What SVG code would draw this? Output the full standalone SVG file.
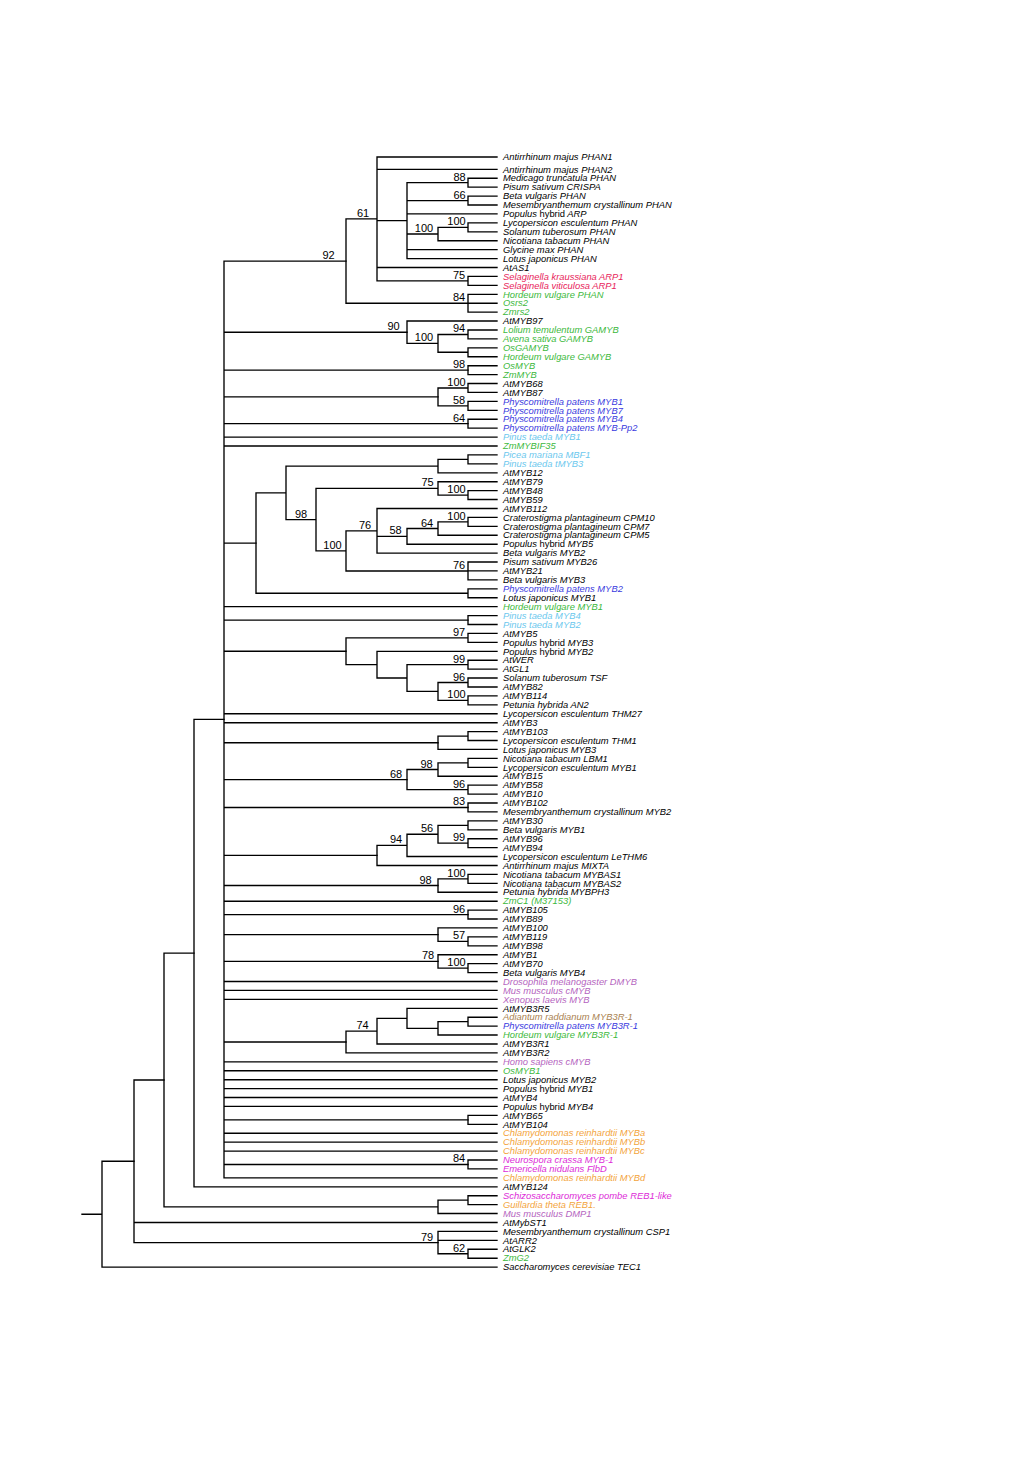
<svg xmlns="http://www.w3.org/2000/svg" width="1024" height="1479" viewBox="0 0 1024 1479">
<style>
.e{fill:none;stroke:#000;stroke-width:1.35;stroke-linecap:square}
text{font-family:"Liberation Sans",Arial,sans-serif}
.l{font-size:9.4px;font-style:italic;fill:#000}
.u{font-style:normal}
.bs{font-size:11px;text-anchor:middle;fill:#000}
.r{fill:#e8245a}.g{fill:#3cb93c}.b{fill:#3a3ae0}.c{fill:#6cc8ee}.p{fill:#b565c0}.o{fill:#f3a43c}.m{fill:#dd2bd8}.n{fill:#a97f4f}
</style>
<rect width="1024" height="1479" fill="#fff"/>
<g id="connectors" class="e">
<path d="M82,1214.2H102 M102,1161.25V1267.1 M102,1161.25H134 M102,1267.1H497"/>
<path d="M134,1079.95V1242.55 M134,1079.95H164 M134,1222.5H497 M134,1242.55H438"/>
<path d="M438,1231.4V1253.7 M438,1231.4H497 M438,1240.3H497 M438,1253.7H468 M468,1249.2V1258.2 M468,1249.2H497 M468,1258.2H497"/>
<path d="M164,953.1V1206.8 M164,953.1H194 M164,1206.8H438 M438,1200.15V1213.5 M438,1200.15H468 M438,1213.5H497 M468,1195.7V1204.6 M468,1195.7H497 M468,1204.6H497"/>
<path d="M194,719.4V1186.8 M194,719.4H224 M194,1186.8H497"/>
<path d="M224,261.05V1177.8 M224,261.05H346 M224,332.2H407 M224,370.15H468 M224,396.9H438 M224,423.65H468 M224,437.1H497 M224,446H497 M224,543.1H256 M224,606.6H497 M224,620.05H468 M224,651.25H346 M224,713.7H497 M224,722.7H497 M224,742.7H438 M224,779.55H407 M224,807.45H468 M224,855.4H377 M224,885.5H438 M224,901.2H497 M224,914.55H468 M224,934.6H438 M224,961.4H438 M224,981.5H497 M224,990.4H497 M224,999.3H497 M224,1042H346 M224,1061.8H497 M224,1070.7H497 M224,1079.7H497 M224,1088.6H497 M224,1097.5H497 M224,1106.4H497 M224,1119.85H468 M224,1133.2H497 M224,1142.1H497 M224,1151.1H497 M224,1164.45H468 M224,1177.8H497"/>
<path d="M346,218.9V303.2 M346,218.9H377 M346,303.2H468 M377,157V280.85 M377,157H497 M377,169.3H497 M377,220.6H407 M377,267.5H497 M377,280.85H468 M407,182.65V258.6 M407,182.65H468 M407,200.55H468 M407,213.9H497 M407,234H438 M407,249.6H497 M407,258.6H497 M468,178.2V187.1 M468,178.2H497 M468,187.1H497 M468,196.1V205 M468,196.1H497 M468,205H497 M438,227.35V240.7 M438,227.35H468 M438,240.7H497 M468,222.9V231.8 M468,222.9H497 M468,231.8H497 M468,276.4V285.3 M468,276.4H497 M468,285.3H497 M468,294.3V312.1 M468,294.3H497 M468,303.2H497 M468,312.1H497"/>
<path d="M407,321V343.35 M407,321H497 M407,343.35H438 M438,334.45V352.25 M438,334.45H468 M438,352.25H468 M468,330V338.9 M468,330H497 M468,338.9H497 M468,347.8V356.7 M468,347.8H497 M468,356.7H497 M468,365.7V374.6 M468,365.7H497 M468,374.6H497 M438,387.95V405.85 M438,387.95H468 M438,405.85H468 M468,383.5V392.4 M468,383.5H497 M468,392.4H497 M468,401.4V410.3 M468,401.4H497 M468,410.3H497 M468,419.2V428.1 M468,419.2H497 M468,428.1H497"/>
<path d="M256,492.9V593.25 M256,492.9H286 M256,593.25H468 M286,466.1V519.65 M286,466.1H438 M286,519.65H316 M438,459.35V472.8 M438,459.35H468 M438,472.8H497 M468,454.9V463.8 M468,454.9H497 M468,463.8H497 M316,488.4V550.9 M316,488.4H438 M316,550.9H346 M438,481.7V495.05 M438,481.7H497 M438,495.05H468 M468,490.6V499.5 M468,490.6H497 M468,499.5H497 M346,530.8V570.95 M346,530.8H377 M346,570.95H468 M377,508.5V553.1 M377,508.5H497 M377,536.35H407 M377,553.1H497 M407,528.5V544.2 M407,528.5H438 M407,544.2H497 M438,521.85V535.2 M438,521.85H468 M438,535.2H497 M468,517.4V526.3 M468,517.4H497 M468,526.3H497 M468,562V579.9 M468,562H497 M468,570.9H497 M468,579.9H497 M468,588.8V597.7 M468,588.8H497 M468,597.7H497"/>
<path d="M468,615.6V624.5 M468,615.6H497 M468,624.5H497 M346,637.85V664.65 M346,637.85H468 M346,664.65H377 M468,633.4V642.3 M468,633.4H497 M468,642.3H497 M377,651.3V678 M377,651.3H497 M377,678H407 M407,664.65V691.4 M407,664.65H468 M407,691.4H438 M468,660.2V669.1 M468,660.2H497 M468,669.1H497 M438,682.5V700.35 M438,682.5H468 M438,700.35H468 M468,678V687 M468,678H497 M468,687H497 M468,695.9V704.8 M468,695.9H497 M468,704.8H497"/>
<path d="M438,736.05V749.4 M438,736.05H468 M438,749.4H497 M468,731.6V740.5 M468,731.6H497 M468,740.5H497 M407,769.5V789.6 M407,769.5H438 M407,789.6H468 M438,762.85V776.2 M438,762.85H468 M438,776.2H497 M468,758.4V767.3 M468,758.4H497 M468,767.3H497 M468,785.1V794.1 M468,785.1H497 M468,794.1H497 M468,803V811.9 M468,803H497 M468,811.9H497"/>
<path d="M377,845.35V865.5 M377,845.35H407 M377,865.5H497 M407,834.2V856.5 M407,834.2H438 M407,856.5H497 M438,825.3V843.15 M438,825.3H468 M438,843.15H468 M468,820.8V829.8 M468,820.8H497 M468,829.8H497 M468,838.7V847.6 M468,838.7H497 M468,847.6H497 M438,878.85V892.2 M438,878.85H468 M438,892.2H497 M468,874.4V883.3 M468,874.4H497 M468,883.3H497"/>
<path d="M468,910.1V919 M468,910.1H497 M468,919H497 M438,927.9V941.35 M438,927.9H497 M438,941.35H468 M468,936.9V945.8 M468,936.9H497 M468,945.8H497 M438,954.7V968.1 M438,954.7H497 M438,968.1H468 M468,963.6V972.6 M468,963.6H497 M468,972.6H497"/>
<path d="M346,1031.15V1052.9 M346,1031.15H377 M346,1052.9H497 M377,1018.3V1044 M377,1018.3H407 M377,1044H497 M407,1008.3V1028.3 M407,1008.3H497 M407,1028.3H438 M438,1021.65V1035 M438,1021.65H468 M438,1035H497 M468,1017.2V1026.1 M468,1017.2H497 M468,1026.1H497"/>
<path d="M468,1115.4V1124.3 M468,1115.4H497 M468,1124.3H497 M468,1160V1168.9 M468,1160H497 M468,1168.9H497"/>
</g>
<g id="support">
<g id="s1"><text class="bs" x="459.5" y="180.6">88</text></g>
<g id="s2"><text class="bs" x="459.5" y="198.5">66</text></g>
<g id="s3"><text class="bs" x="456.5" y="225.3">100</text></g>
<g id="s4"><text class="bs" x="424" y="232">100</text></g>
<g id="s5"><text class="bs" x="363" y="216.9">61</text></g>
<g id="s6"><text class="bs" x="459" y="278.8">75</text></g>
<g id="s7"><text class="bs" x="459" y="301.2">84</text></g>
<g id="s8"><text class="bs" x="328.5" y="259">92</text></g>
<g id="s9"><text class="bs" x="393.5" y="330.2">90</text></g>
<g id="s10"><text class="bs" x="459" y="332.4">94</text></g>
<g id="s11"><text class="bs" x="424" y="341.3">100</text></g>
<g id="s12"><text class="bs" x="459" y="368.1">98</text></g>
<g id="s13"><text class="bs" x="456.5" y="385.9">100</text></g>
<g id="s14"><text class="bs" x="459" y="403.8">58</text></g>
<g id="s15"><text class="bs" x="459" y="421.6">64</text></g>
<g id="s16"><text class="bs" x="427.5" y="486.4">75</text></g>
<g id="s17"><text class="bs" x="456.5" y="493">100</text></g>
<g id="s18"><text class="bs" x="301" y="517.6">98</text></g>
<g id="s19"><text class="bs" x="365" y="528.8">76</text></g>
<g id="s20"><text class="bs" x="456.5" y="519.8">100</text></g>
<g id="s21"><text class="bs" x="427" y="526.5">64</text></g>
<g id="s22"><text class="bs" x="395.5" y="534.3">58</text></g>
<g id="s23"><text class="bs" x="332.5" y="548.9">100</text></g>
<g id="s24"><text class="bs" x="459" y="568.9">76</text></g>
<g id="s25"><text class="bs" x="459" y="635.8">97</text></g>
<g id="s26"><text class="bs" x="459" y="662.6">99</text></g>
<g id="s27"><text class="bs" x="459" y="680.5">96</text></g>
<g id="s28"><text class="bs" x="456.5" y="698.3">100</text></g>
<g id="s29"><text class="bs" x="426.5" y="767.5">98</text></g>
<g id="s30"><text class="bs" x="396" y="777.5">68</text></g>
<g id="s31"><text class="bs" x="459" y="787.6">96</text></g>
<g id="s32"><text class="bs" x="459" y="805.4">83</text></g>
<g id="s33"><text class="bs" x="427" y="832.2">56</text></g>
<g id="s34"><text class="bs" x="459" y="841.1">99</text></g>
<g id="s35"><text class="bs" x="396" y="843.3">94</text></g>
<g id="s36"><text class="bs" x="456.5" y="876.8">100</text></g>
<g id="s37"><text class="bs" x="425.5" y="883.5">98</text></g>
<g id="s38"><text class="bs" x="459" y="912.5">96</text></g>
<g id="s39"><text class="bs" x="459" y="939.3">57</text></g>
<g id="s40"><text class="bs" x="428" y="959.4">78</text></g>
<g id="s41"><text class="bs" x="456.5" y="966.1">100</text></g>
<g id="s42"><text class="bs" x="362.5" y="1029.1">74</text></g>
<g id="s43"><text class="bs" x="459" y="1162.4">84</text></g>
<g id="s44"><text class="bs" x="427" y="1240.5">79</text></g>
<g id="s45"><text class="bs" x="459" y="1251.7">62</text></g>
</g>
<g id="leaves">
<g id="t1"><text class="l" x="503" y="160.2">Antirrhinum majus PHAN1</text></g>
<g id="t2"><text class="l" x="503" y="172.5">Antirrhinum majus PHAN2</text></g>
<g id="t3"><text class="l" x="503" y="181.4">Medicago truncatula PHAN</text></g>
<g id="t4"><text class="l" x="503" y="190.3">Pisum sativum CRISPA</text></g>
<g id="t5"><text class="l" x="503" y="199.3">Beta vulgaris PHAN</text></g>
<g id="t6"><text class="l" x="503" y="208.2">Mesembryanthemum crystallinum PHAN</text></g>
<g id="t7"><text class="l" x="503" y="217.1">Populus <tspan class="u">hybrid</tspan> ARP</text></g>
<g id="t8"><text class="l" x="503" y="226.1">Lycopersicon esculentum PHAN</text></g>
<g id="t9"><text class="l" x="503" y="235">Solanum tuberosum PHAN</text></g>
<g id="t10"><text class="l" x="503" y="243.9">Nicotiana tabacum PHAN</text></g>
<g id="t11"><text class="l" x="503" y="252.8">Glycine max PHAN</text></g>
<g id="t12"><text class="l" x="503" y="261.8">Lotus japonicus PHAN</text></g>
<g id="t13"><text class="l" x="503" y="270.7">AtAS1</text></g>
<g id="t14"><text class="l r" x="503" y="279.6">Selaginella kraussiana ARP1</text></g>
<g id="t15"><text class="l r" x="503" y="288.5">Selaginella viticulosa ARP1</text></g>
<g id="t16"><text class="l g" x="503" y="297.5">Hordeum vulgare PHAN</text></g>
<g id="t17"><text class="l g" x="503" y="306.4">Osrs2</text></g>
<g id="t18"><text class="l g" x="503" y="315.3">Zmrs2</text></g>
<g id="t19"><text class="l" x="503" y="324.2">AtMYB97</text></g>
<g id="t20"><text class="l g" x="503" y="333.2">Lolium temulentum GAMYB</text></g>
<g id="t21"><text class="l g" x="503" y="342.1">Avena sativa GAMYB</text></g>
<g id="t22"><text class="l g" x="503" y="351">OsGAMYB</text></g>
<g id="t23"><text class="l g" x="503" y="359.9">Hordeum vulgare GAMYB</text></g>
<g id="t24"><text class="l g" x="503" y="368.9">OsMYB</text></g>
<g id="t25"><text class="l g" x="503" y="377.8">ZmMYB</text></g>
<g id="t26"><text class="l" x="503" y="386.7">AtMYB68</text></g>
<g id="t27"><text class="l" x="503" y="395.6">AtMYB87</text></g>
<g id="t28"><text class="l b" x="503" y="404.6">Physcomitrella patens MYB1</text></g>
<g id="t29"><text class="l b" x="503" y="413.5">Physcomitrella patens MYB7</text></g>
<g id="t30"><text class="l b" x="503" y="422.4">Physcomitrella patens MYB4</text></g>
<g id="t31"><text class="l b" x="503" y="431.3">Physcomitrella patens MYB-Pp2</text></g>
<g id="t32"><text class="l c" x="503" y="440.3">Pinus taeda MYB1</text></g>
<g id="t33"><text class="l g" x="503" y="449.2">ZmMYBIF35</text></g>
<g id="t34"><text class="l c" x="503" y="458.1">Picea mariana MBF1</text></g>
<g id="t35"><text class="l c" x="503" y="467">Pinus taeda tMYB3</text></g>
<g id="t36"><text class="l" x="503" y="476">AtMYB12</text></g>
<g id="t37"><text class="l" x="503" y="484.9">AtMYB79</text></g>
<g id="t38"><text class="l" x="503" y="493.8">AtMYB48</text></g>
<g id="t39"><text class="l" x="503" y="502.7">AtMYB59</text></g>
<g id="t40"><text class="l" x="503" y="511.7">AtMYB112</text></g>
<g id="t41"><text class="l" x="503" y="520.6">Craterostigma plantagineum CPM10</text></g>
<g id="t42"><text class="l" x="503" y="529.5">Craterostigma plantagineum CPM7</text></g>
<g id="t43"><text class="l" x="503" y="538.4">Craterostigma plantagineum CPM5</text></g>
<g id="t44"><text class="l" x="503" y="547.4">Populus <tspan class="u">hybrid</tspan> MYB5</text></g>
<g id="t45"><text class="l" x="503" y="556.3">Beta vulgaris MYB2</text></g>
<g id="t46"><text class="l" x="503" y="565.2">Pisum sativum MYB26</text></g>
<g id="t47"><text class="l" x="503" y="574.1">AtMYB21</text></g>
<g id="t48"><text class="l" x="503" y="583.1">Beta vulgaris MYB3</text></g>
<g id="t49"><text class="l b" x="503" y="592">Physcomitrella patens MYB2</text></g>
<g id="t50"><text class="l" x="503" y="600.9">Lotus japonicus MYB1</text></g>
<g id="t51"><text class="l g" x="503" y="609.8">Hordeum vulgare MYB1</text></g>
<g id="t52"><text class="l c" x="503" y="618.8">Pinus taeda MYB4</text></g>
<g id="t53"><text class="l c" x="503" y="627.7">Pinus taeda MYB2</text></g>
<g id="t54"><text class="l" x="503" y="636.6">AtMYB5</text></g>
<g id="t55"><text class="l" x="503" y="645.5">Populus <tspan class="u">hybrid</tspan> MYB3</text></g>
<g id="t56"><text class="l" x="503" y="654.5">Populus <tspan class="u">hybrid</tspan> MYB2</text></g>
<g id="t57"><text class="l" x="503" y="663.4">AtWER</text></g>
<g id="t58"><text class="l" x="503" y="672.3">AtGL1</text></g>
<g id="t59"><text class="l" x="503" y="681.2">Solanum tuberosum TSF</text></g>
<g id="t60"><text class="l" x="503" y="690.2">AtMYB82</text></g>
<g id="t61"><text class="l" x="503" y="699.1">AtMYB114</text></g>
<g id="t62"><text class="l" x="503" y="708">Petunia hybrida AN2</text></g>
<g id="t63"><text class="l" x="503" y="716.9">Lycopersicon esculentum THM27</text></g>
<g id="t64"><text class="l" x="503" y="725.9">AtMYB3</text></g>
<g id="t65"><text class="l" x="503" y="734.8">AtMYB103</text></g>
<g id="t66"><text class="l" x="503" y="743.7">Lycopersicon esculentum THM1</text></g>
<g id="t67"><text class="l" x="503" y="752.6">Lotus japonicus MYB3</text></g>
<g id="t68"><text class="l" x="503" y="761.6">Nicotiana tabacum LBM1</text></g>
<g id="t69"><text class="l" x="503" y="770.5">Lycopersicon esculentum MYB1</text></g>
<g id="t70"><text class="l" x="503" y="779.4">AtMYB15</text></g>
<g id="t71"><text class="l" x="503" y="788.3">AtMYB58</text></g>
<g id="t72"><text class="l" x="503" y="797.3">AtMYB10</text></g>
<g id="t73"><text class="l" x="503" y="806.2">AtMYB102</text></g>
<g id="t74"><text class="l" x="503" y="815.1">Mesembryanthemum crystallinum MYB2</text></g>
<g id="t75"><text class="l" x="503" y="824">AtMYB30</text></g>
<g id="t76"><text class="l" x="503" y="833">Beta vulgaris MYB1</text></g>
<g id="t77"><text class="l" x="503" y="841.9">AtMYB96</text></g>
<g id="t78"><text class="l" x="503" y="850.8">AtMYB94</text></g>
<g id="t79"><text class="l" x="503" y="859.7">Lycopersicon esculentum LeTHM6</text></g>
<g id="t80"><text class="l" x="503" y="868.7">Antirrhinum majus MIXTA</text></g>
<g id="t81"><text class="l" x="503" y="877.6">Nicotiana tabacum MYBAS1</text></g>
<g id="t82"><text class="l" x="503" y="886.5">Nicotiana tabacum MYBAS2</text></g>
<g id="t83"><text class="l" x="503" y="895.4">Petunia hybrida MYBPH3</text></g>
<g id="t84"><text class="l g" x="503" y="904.4">ZmC1 (M37153)</text></g>
<g id="t85"><text class="l" x="503" y="913.3">AtMYB105</text></g>
<g id="t86"><text class="l" x="503" y="922.2">AtMYB89</text></g>
<g id="t87"><text class="l" x="503" y="931.1">AtMYB100</text></g>
<g id="t88"><text class="l" x="503" y="940.1">AtMYB119</text></g>
<g id="t89"><text class="l" x="503" y="949">AtMYB98</text></g>
<g id="t90"><text class="l" x="503" y="957.9">AtMYB1</text></g>
<g id="t91"><text class="l" x="503" y="966.8">AtMYB70</text></g>
<g id="t92"><text class="l" x="503" y="975.8">Beta vulgaris MYB4</text></g>
<g id="t93"><text class="l p" x="503" y="984.7">Drosophila melanogaster DMYB</text></g>
<g id="t94"><text class="l p" x="503" y="993.6">Mus musculus cMYB</text></g>
<g id="t95"><text class="l p" x="503" y="1002.5">Xenopus laevis MYB</text></g>
<g id="t96"><text class="l" x="503" y="1011.5">AtMYB3R5</text></g>
<g id="t97"><text class="l n" x="503" y="1020.4">Adiantum raddianum MYB3R-1</text></g>
<g id="t98"><text class="l b" x="503" y="1029.3">Physcomitrella patens MYB3R-1</text></g>
<g id="t99"><text class="l g" x="503" y="1038.2">Hordeum vulgare MYB3R-1</text></g>
<g id="t100"><text class="l" x="503" y="1047.2">AtMYB3R1</text></g>
<g id="t101"><text class="l" x="503" y="1056.1">AtMYB3R2</text></g>
<g id="t102"><text class="l p" x="503" y="1065">Homo sapiens cMYB</text></g>
<g id="t103"><text class="l g" x="503" y="1073.9">OsMYB1</text></g>
<g id="t104"><text class="l" x="503" y="1082.9">Lotus japonicus MYB2</text></g>
<g id="t105"><text class="l" x="503" y="1091.8">Populus <tspan class="u">hybrid</tspan> MYB1</text></g>
<g id="t106"><text class="l" x="503" y="1100.7">AtMYB4</text></g>
<g id="t107"><text class="l" x="503" y="1109.6">Populus <tspan class="u">hybrid</tspan> MYB4</text></g>
<g id="t108"><text class="l" x="503" y="1118.6">AtMYB65</text></g>
<g id="t109"><text class="l" x="503" y="1127.5">AtMYB104</text></g>
<g id="t110"><text class="l o" x="503" y="1136.4">Chlamydomonas reinhardtii MYBa</text></g>
<g id="t111"><text class="l o" x="503" y="1145.3">Chlamydomonas reinhardtii MYBb</text></g>
<g id="t112"><text class="l o" x="503" y="1154.3">Chlamydomonas reinhardtii MYBc</text></g>
<g id="t113"><text class="l m" x="503" y="1163.2">Neurospora crassa MYB-1</text></g>
<g id="t114"><text class="l m" x="503" y="1172.1">Emericella nidulans FlbD</text></g>
<g id="t115"><text class="l o" x="503" y="1181">Chlamydomonas reinhardtii MYBd</text></g>
<g id="t116"><text class="l" x="503" y="1190">AtMYB124</text></g>
<g id="t117"><text class="l m" x="503" y="1198.9">Schizosaccharomyces pombe REB1-like</text></g>
<g id="t118"><text class="l o" x="503" y="1207.8">Guillardia theta REB1.</text></g>
<g id="t119"><text class="l p" x="503" y="1216.7">Mus musculus DMP1</text></g>
<g id="t120"><text class="l" x="503" y="1225.7">AtMybST1</text></g>
<g id="t121"><text class="l" x="503" y="1234.6">Mesembryanthemum crystallinum CSP1</text></g>
<g id="t122"><text class="l" x="503" y="1243.5">AtARR2</text></g>
<g id="t123"><text class="l" x="503" y="1252.4">AtGLK2</text></g>
<g id="t124"><text class="l g" x="503" y="1261.4">ZmG2</text></g>
<g id="t125"><text class="l" x="503" y="1270.3">Saccharomyces cerevisiae TEC1</text></g>
</g>
</svg>
